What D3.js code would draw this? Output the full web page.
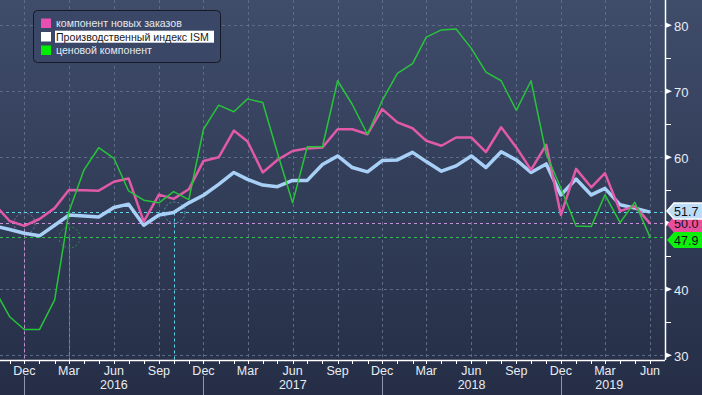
<!DOCTYPE html>
<html>
<head>
<meta charset="utf-8">
<script src="https://cdnjs.cloudflare.com/ajax/libs/d3/7.8.5/d3.min.js"></script>
<style>
  html, body { margin: 0; padding: 0; background: #2a334c; }
  svg { display: block; }
</style>
</head>
<body>
<svg id="chart"></svg>
<script>
// monthly series, Oct 2015 .. Jun 2019
var firstMonth = new Date(2015, 9, 1);
var lastMonth = new Date(2019, 5, 1);
var months = d3.timeMonth.range(firstMonth, d3.timeMonth.offset(lastMonth, 1));

var newOrders = [52.9, 50.35, 49.6, 50.65, 52.3, 55.05, 55.0, 54.95, 56.3, 56.8, 50.25, 54.35,
  53.7, 55.15, 59.45, 60.0, 64.05, 62.4, 57.7, 59.6, 60.95, 61.35, 61.5, 64.25,
  64.25, 63.5, 67.3, 65.3, 64.4, 62.5, 61.75, 63.0, 63.0, 60.8, 64.55, 61.5,
  58.1, 61.9, 51.25, 58.25, 55.45, 57.6, 51.85, 52.6, 50.0];
var ismIndex = [49.6, 49.05, 48.5, 48.1, 49.7, 51.25, 51.1, 50.95, 52.4, 52.9, 49.7, 51.25,
  51.65, 53.1, 54.25, 55.9, 57.7, 56.65, 55.8, 55.55, 56.5, 56.5, 58.9, 60.2,
  58.45, 57.8, 59.5, 59.6, 60.75, 59.35, 57.9, 58.7, 60.2, 58.45, 60.85, 59.6,
  57.7, 59.0, 54.3, 56.7, 54.3, 55.3, 52.8, 52.3, 51.7];
var prices = [40.0, 35.85, 33.9, 33.9, 38.4, 51.7, 58.1, 61.45, 59.85, 54.9, 53.5, 53.1,
  54.8, 53.6, 64.25, 67.9, 66.9, 68.85, 68.3, 60.7, 53.1, 61.6, 61.6, 71.6,
  68.0, 63.45, 68.6, 72.7, 74.2, 78.2, 79.3, 79.45, 76.5, 72.9, 71.6, 67.1,
  71.6, 60.5, 55.3, 49.6, 49.5, 54.3, 50.1, 53.2, 47.9];

var seriesNames = ["компонент новых заказов", "Производственный индекс ISM", "ценовой компонент"];
var lastLabels = ["50.0", "51.7", "47.9"];
// month where each series was last at its current level
var crossMonths = [new Date(2015, 11, 1), new Date(2016, 9, 1), new Date(2016, 2, 1)];
var yTicks = [30, 40, 50, 60, 70, 80];
var yMinorTicks = [35, 45, 55, 65, 75];
var years = ["2016", "2017", "2018", "2019"];

var W = 702, H = 395;
var plotRight = 665, plotBottom = 360;

var svg = d3.select("#chart").attr("width", W).attr("height", H);
var defs = svg.append("defs");

var grad = defs.append("linearGradient").attr("id", "bg")
  .attr("x1", 0).attr("y1", 0).attr("x2", 0).attr("y2", 1);
grad.append("stop").attr("offset", "0%").attr("stop-color", "#3f4c6a");
grad.append("stop").attr("offset", "100%").attr("stop-color", "#252e46");

defs.append("clipPath").attr("id", "plotClip")
  .append("rect").attr("x", 0).attr("y", 0).attr("width", plotRight).attr("height", plotBottom);

svg.append("rect").attr("width", W).attr("height", H).attr("fill", "url(#bg)");

// scales
var x = d3.scaleTime()
  .domain([new Date(2015, 11, 1), new Date(2019, 5, 1)])
  .range([24.3, 650]);
var y = d3.scaleLinear().domain([30, 80]).range([355.3, 25.3]);

var quarterMonths = months.filter(function(d) { return d.getMonth() % 3 == 2; });

// grid
var grid = svg.append("g").attr("stroke", "#5d6b89").attr("stroke-width", 1)
  .attr("stroke-dasharray", "3,3");
grid.selectAll(".hg").data(yTicks).enter().append("line")
  .attr("x1", 0).attr("x2", plotRight)
  .attr("y1", function(d) { return Math.round(y(d)) + 0.5; })
  .attr("y2", function(d) { return Math.round(y(d)) + 0.5; });
grid.selectAll(".vg").data(quarterMonths).enter().append("line")
  .attr("y1", 0).attr("y2", plotBottom)
  .attr("x1", function(d) { return Math.round(x(d)) + 0.5; })
  .attr("x2", function(d) { return Math.round(x(d)) + 0.5; });

// last value lines + markers
var series = [
  { name: seriesNames[0], values: newOrders, color: "#e05aa8", width: 2.5, mark: "#c890d8", tag: "#e8509f" },
  { name: seriesNames[1], values: ismIndex, color: "#a8d0f6", width: 3.5, mark: "#5ed4e8", tag: "#bcdcf8" },
  { name: seriesNames[2], values: prices, color: "#27c43a", width: 1.5, mark: "#2fbf4a", tag: "#0cf00c" }
];

var marks = svg.append("g").attr("fill", "none").attr("stroke-width", 1);
series.forEach(function(s, i) {
  var last = s.values[s.values.length - 1];
  var yy = Math.round(y(last)) + 0.5;
  var xx = Math.round(x(crossMonths[i])) + 0.5;
  marks.append("line").attr("x1", 0).attr("x2", plotRight).attr("y1", yy).attr("y2", yy)
    .attr("stroke", s.mark).attr("stroke-dasharray", "3,3");
  marks.append("line").attr("x1", xx).attr("x2", xx).attr("y1", yy).attr("y2", plotBottom)
    .attr("stroke", s.mark).attr("stroke-dasharray", "3,3");
  marks.append("circle").attr("cx", xx).attr("cy", yy).attr("r", 10.5)
    .attr("stroke", s.mark).attr("stroke-opacity", 0.6).attr("stroke-dasharray", "2,2");
});

// lines
var line = d3.line()
  .x(function(d, i) { return x(months[i]); })
  .y(function(d) { return y(d); });

var lines = svg.append("g").attr("clip-path", "url(#plotClip)");
[1, 0, 2].forEach(function(k) {
  var s = series[k];
  lines.append("path").datum(s.values)
    .attr("d", line)
    .attr("fill", "none")
    .attr("stroke", s.color)
    .attr("stroke-width", s.width)
    .attr("stroke-linejoin", "round");
});

// x axis
var xAxis = svg.append("g").attr("transform", "translate(0," + plotBottom + ")");
xAxis.append("line").attr("x1", 0).attr("x2", plotRight).attr("y1", 0.5).attr("y2", 0.5)
  .attr("stroke", "#ffffff").attr("stroke-width", 1.5);
xAxis.selectAll(".mt").data(months).enter().append("line")
  .attr("x1", function(d) { return Math.round(x(d)) + 0.5; })
  .attr("x2", function(d) { return Math.round(x(d)) + 0.5; })
  .attr("y1", 0).attr("y2", 4)
  .attr("stroke", "#ffffff");
xAxis.selectAll(".ml").data(quarterMonths).enter().append("text")
  .attr("x", function(d) { return x(d); })
  .attr("y", 14.5)
  .attr("text-anchor", "middle")
  .attr("font-family", "Liberation Sans, Arial, sans-serif")
  .attr("font-size", "12.5px")
  .attr("fill", "#e8ecf2")
  .text(d3.timeFormat("%b"));

// year dividers and labels
var decs = quarterMonths.filter(function(d) { return d.getMonth() == 11; });
xAxis.selectAll(".yd").data(decs).enter().append("line")
  .attr("x1", function(d) { return Math.round(x(d)) + 0.5; })
  .attr("x2", function(d) { return Math.round(x(d)) + 0.5; })
  .attr("y1", 16).attr("y2", 35)
  .attr("stroke", "#8c97ad");
xAxis.selectAll(".yl").data(years).enter().append("text")
  .attr("x", function(d, i) {
    var a = x(decs[i]);
    var b = i + 1 < decs.length ? x(decs[i + 1]) : x(lastMonth) + 7.5;
    return (a + b) / 2;
  })
  .attr("y", 29.3)
  .attr("text-anchor", "middle")
  .attr("font-family", "Liberation Sans, Arial, sans-serif")
  .attr("font-size", "12.5px")
  .attr("fill", "#e8ecf2")
  .text(function(d) { return d; });

// y axis on the right
var yAxis = svg.append("g").attr("transform", "translate(" + plotRight + ",0)");
yAxis.append("line").attr("x1", 0.5).attr("x2", 0.5).attr("y1", 0).attr("y2", plotBottom)
  .attr("stroke", "#ffffff").attr("stroke-width", 1.5);
yAxis.selectAll(".mn").data(yMinorTicks).enter().append("line")
  .attr("x1", 0).attr("x2", 6)
  .attr("y1", function(d) { return Math.round(y(d)) + 0.5; })
  .attr("y2", function(d) { return Math.round(y(d)) + 0.5; })
  .attr("stroke", "#ffffff");
yAxis.selectAll(".tri").data(yTicks).enter().append("path")
  .attr("d", function(d) { var v = y(d); return "M0," + (v - 3) + "L7," + v + "L0," + (v + 3) + "Z"; })
  .attr("fill", "#ffffff");
yAxis.selectAll(".yl").data(yTicks).enter().append("text")
  .attr("x", 9)
  .attr("y", function(d) { return y(d) + 1; })
  .attr("dy", "0.35em")
  .attr("font-family", "Liberation Sans, Arial, sans-serif")
  .attr("font-size", "13px")
  .attr("fill", "#e8ecf2")
  .text(function(d) { return d; });

// last value tags (pink partly under blue, green below)
var tagY = [224.5, 211, 240];
[0, 2, 1].forEach(function(k) {
  var s = series[k];
  var cy = tagY[k];
  var tip = plotRight + 2;
  yAxis.append("path")
    .attr("transform", "translate(" + (-plotRight) + ",0)")
    .attr("d", "M" + tip + "," + cy + "L" + (tip + 7) + "," + (cy - 8) + "L" + (W + 2) + "," + (cy - 8) +
      "L" + (W + 2) + "," + (cy + 8) + "L" + (tip + 7) + "," + (cy + 8) + "Z")
    .attr("fill", s.tag)
    .attr("stroke", k == 1 ? "#ffffff" : "none")
    .attr("stroke-width", 1.5);
  yAxis.append("text")
    .attr("x", 9)
    .attr("y", k == 0 ? cy - 1.5 : cy)
    .attr("dy", "0.36em")
    .attr("font-family", "Liberation Sans, Arial, sans-serif")
    .attr("font-size", "12.5px")
    .attr("fill", "#111111")
    .text(lastLabels[k]);
});

// legend
var legend = svg.append("g").attr("transform", "translate(33.5,10.5)");
legend.append("rect").attr("width", 187).attr("height", 52).attr("rx", 4)
  .attr("fill", "#3a4766").attr("stroke", "#151a26").attr("stroke-width", 1);
var swatch = ["#e84fb2", "#ffffff", "#00ee00"];
series.forEach(function(s, i) {
  var row = legend.append("g").attr("transform", "translate(0," + (8 + i * 13.5) + ")");
  row.append("rect").attr("x", 7.5).attr("y", 0).attr("width", 10).attr("height", 9.5)
    .attr("fill", swatch[i]);
  if (i == 1) {
    row.append("rect").attr("x", 21.5).attr("y", -1.3).attr("width", 159).attr("height", 12)
      .attr("fill", "#ffffff");
  }
  row.append("text")
    .attr("x", 22.5)
    .attr("y", 5)
    .attr("dy", "0.35em")
    .attr("font-family", "Liberation Sans, Arial, sans-serif")
    .attr("font-size", "10.6px")
    .attr("fill", i == 1 ? "#1a1a1a" : "#e6e9ef")
    .text(s.name);
});
</script>
</body>
</html>
